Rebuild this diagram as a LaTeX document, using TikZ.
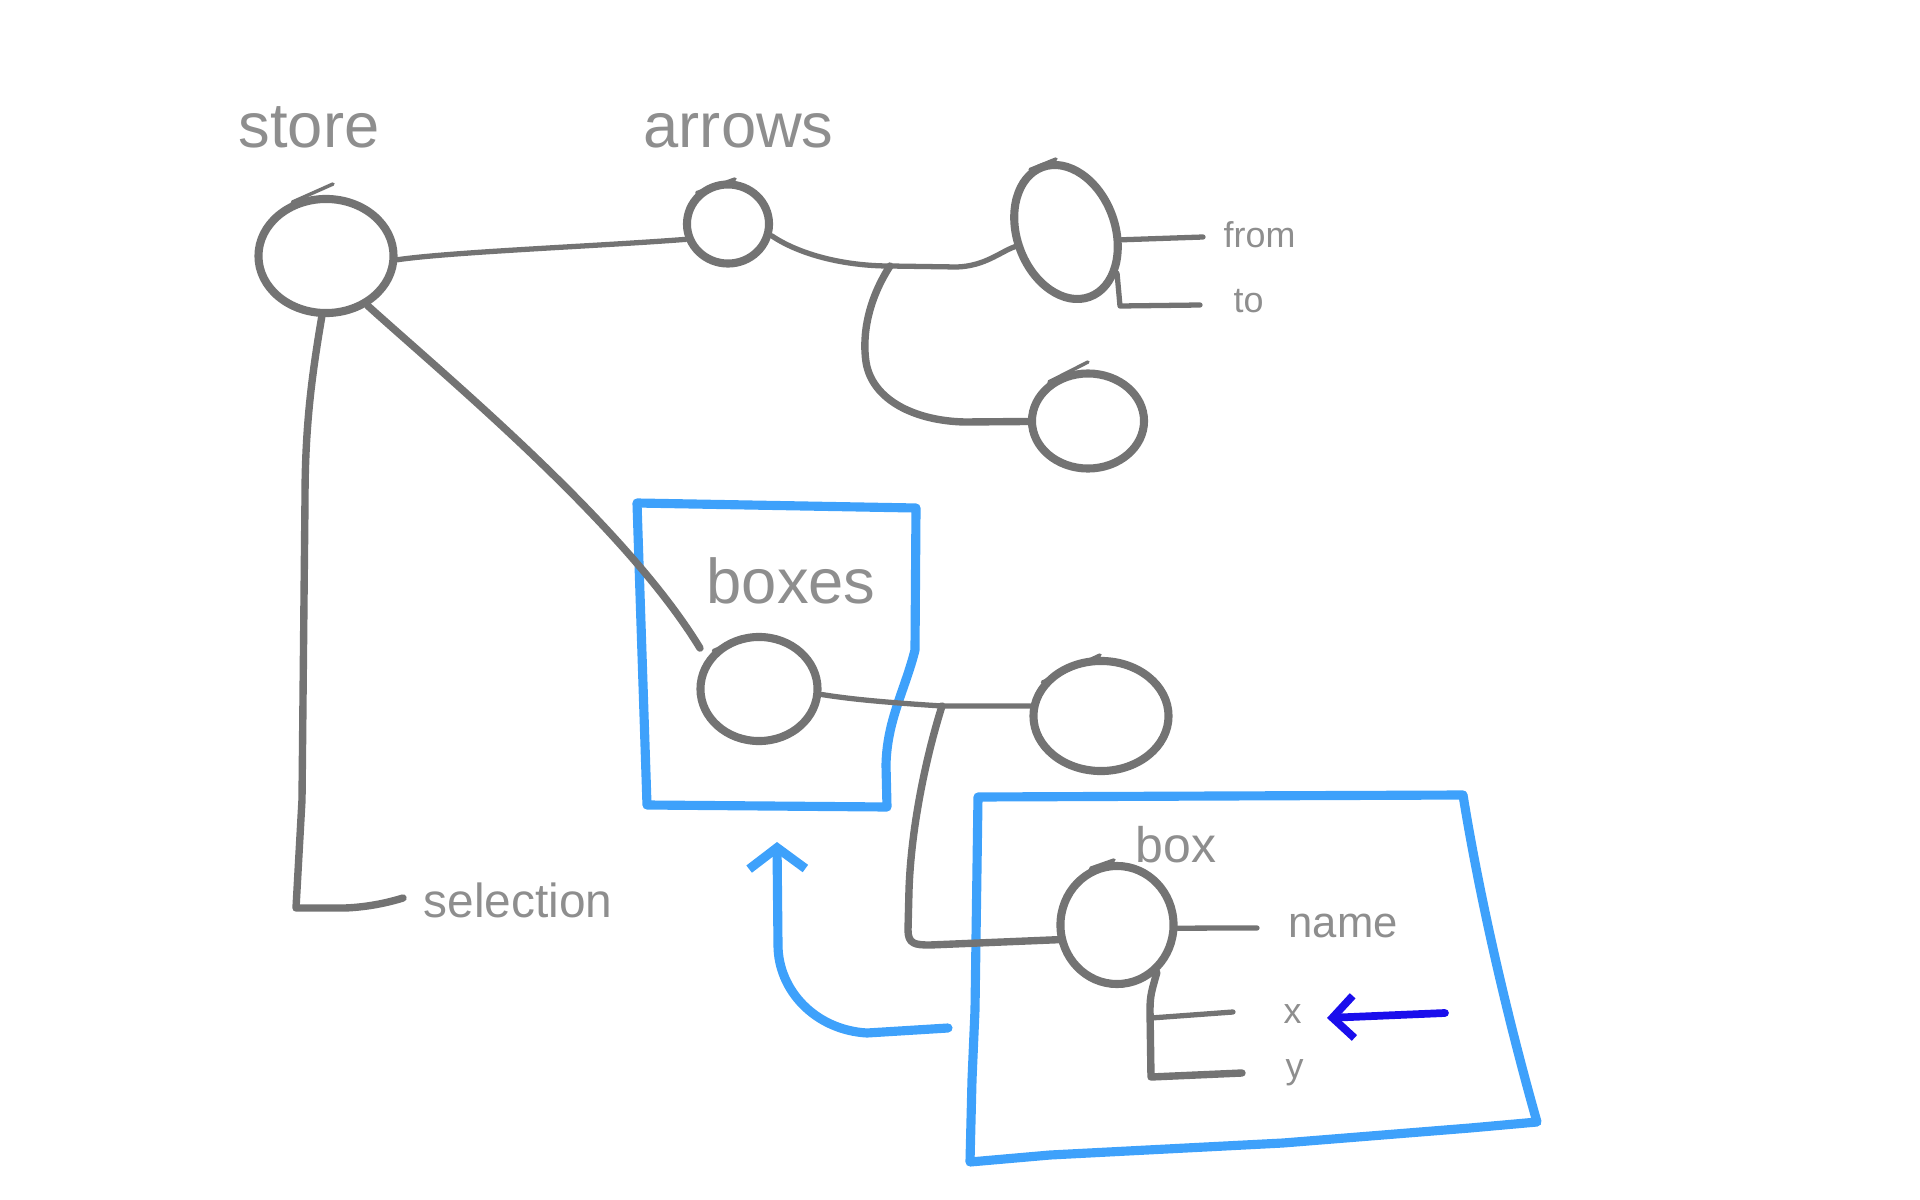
\documentclass[tikz,border=0pt]{standalone}
\usepackage{fontspec}
\setmainfont{Liberation Sans}
\usetikzlibrary{shapes.geometric,arrows.meta}
\definecolor{sketchgray}{RGB}{115,115,115}
\definecolor{labelgray}{RGB}{142,142,142}
\definecolor{frameblue}{RGB}{62,161,251}
\definecolor{markblue}{RGB}{26,14,236}
\begin{document}
\begin{tikzpicture}[x=0.01cm,y=-0.01cm,
  blob/.style={ellipse, draw=sketchgray, line width=2.3pt, inner sep=0pt},
  wire/.style={draw=sketchgray, line width=2.1pt, line cap=round, line join=round},
  thinwire/.style={draw=sketchgray, line width=1.5pt, line cap=round, line join=round},
  tailstroke/.style={draw=sketchgray, line width=1pt, line cap=round},
  frame/.style={draw=frameblue, line width=2.6pt, line cap=round, line join=round},
  lbl/.style={text=labelgray, anchor=base west, inner sep=0pt},
  bigtext/.style={font=\fontsize{18}{20}\selectfont},
  smalltext/.style={font=\fontsize{10.2}{12}\selectfont}]
\useasboundingbox (0,0) rectangle (1920,1200);

% blue frames around the boxes list and a single box
\draw[frame] (637,503) -- (916,508) -- (915,650)
  .. controls (905,690) and (887,720) .. (886,765) -- (887,807) -- (647,805) -- cycle;
\draw[frame] (978,797) -- (1463,795)
  .. controls (1480,900) and (1508,1020) .. (1537,1122)
  -- (1470,1128) -- (1283,1143) -- (1050,1155) -- (970,1162)
  -- (972,1080) -- (975,1010) -- cycle;

% state tree nodes
\node[blob, minimum width=1.35cm, minimum height=1.14cm] (store) at (326,256) {};
\node[blob, minimum width=0.82cm, minimum height=0.79cm] (arr) at (728,224) {};
\node[blob, minimum width=0.98cm, minimum height=1.38cm, rotate=20] (edge) at (1066,232) {};
\node[blob, minimum width=1.12cm, minimum height=0.95cm] (arr2) at (1088,421) {};
\node[blob, minimum width=1.17cm, minimum height=1.04cm] (bx) at (759,689) {};
\node[blob, minimum width=1.35cm, minimum height=1.10cm] (bxr) at (1101,716) {};
\node[blob, minimum width=1.13cm, minimum height=1.18cm] (bxc) at (1117,925) {};

% pen overshoots where each loop was closed
\draw[tailstroke] (store.122) -- (333,184);
\draw[tailstroke] (arr.135) -- (735,179);
\draw[tailstroke] (edge.100) -- (1056,159);
\draw[tailstroke] (arr2.135) -- (1088,362);
\draw[tailstroke] (bx.140) -- (745,637);
\draw[tailstroke] (bxr.150) -- (1100,655);
\draw[tailstroke] (bxc.115) -- (1114,860);

% labels
\node[lbl, bigtext] (storelbl) at (238,147) {store};
\node[lbl, bigtext] (arrowslbl) at (643,147) {arrows};
\node[lbl, bigtext] (boxeslbl) at (706,603) {boxes};
\node[lbl, font=\fontsize{14.2}{16}\selectfont] (boxlbl) at (1135,862) {box};
\node[lbl, font=\fontsize{12.4}{14}\selectfont] (namelbl) at (1288,937) {name};
\node[lbl, font=\fontsize{13.6}{16}\selectfont] (sellbl) at (423,917) {selection};
\node[lbl, smalltext] (fromlbl) at (1223,247) {from};
\node[lbl, smalltext] (tolbl) at (1233,312) {to};
\node[lbl, smalltext] (xlbl) at (1283,1023) {x};
\node[lbl, smalltext] (ylbl) at (1285,1078) {y};

% junctions and free ends
\coordinate (J1) at (890,266);
\coordinate (J2) at (942,706);
\coordinate (fromEnd) at (1203,237);
\coordinate (toBend) at (1120,306);
\coordinate (toEnd) at (1200,305);
\coordinate (selEnd) at (403,898);
\coordinate (nameEnd) at (1257,928);
\coordinate (xStart) at (1151,1018);
\coordinate (xEnd) at (1233,1012);
\coordinate (yEnd) at (1242,1073);
\coordinate (retStart) at (948,1028);
\coordinate (retTip) at (777,842);
\coordinate (markStart) at (1445,1013);
\coordinate (markTip) at (1327,1018);

% store branches
\draw[thinwire] (store.-3) .. controls (450,252) and (600,246) .. (arr.200);
\draw[wire, shorten >=3.5pt] (store.-50) .. controls (450,380) and (625,525) .. (bx.150);
\draw[wire] (store.-94) .. controls (311,380) and (305,430) .. (305,500)
  -- (302,800) -- (296,908) -- (345,908) .. controls (370,907) and (390,902) .. (selEnd);

% arrows branches
\draw[thinwire] (arr.-15) .. controls (800,255) and (845,266) .. (J1) -- (957,267)
  .. controls (985,266) and (1000,252) .. (edge.176);
\draw[wire] (J1) .. controls (868,300) and (862,335) .. (866,362)
  .. controls (872,400) and (915,421) .. (965,422) -- (arr2);
\draw[thinwire] (edge.-28) -- (fromEnd);
\draw[thinwire] (edge.-59) -- (toBend) -- (toEnd);

% boxes branches
\draw[thinwire] (bx.-5) .. controls (850,699) and (880,702) .. (J2) -- (bxr.172);
\draw[wire] (J2) .. controls (925,760) and (911,830) .. (909,890) -- (908,930)
  .. controls (908,944) and (915,945) .. (930,945) -- (bxc.194);
\draw[thinwire] (bxc.-3) -- (nameEnd);
\draw[wire] (bxc.-50) .. controls (1152,990) and (1150,995) .. (1150,1010)
  -- (1151,1077) -- (yEnd);
\draw[thinwire] (xStart) -- (xEnd);

% arrows
\draw[frame, -{Straight Barb[length=6pt,width=16pt]}] (retStart) -- (867,1033)
  .. controls (815,1030) and (778,990) .. (778,945) -- (retTip);
\draw[draw=markblue, line width=2.2pt, line cap=round,
  -{Straight Barb[length=6pt,width=12pt]}] (markStart) -- (markTip);
\end{tikzpicture}
\end{document}
